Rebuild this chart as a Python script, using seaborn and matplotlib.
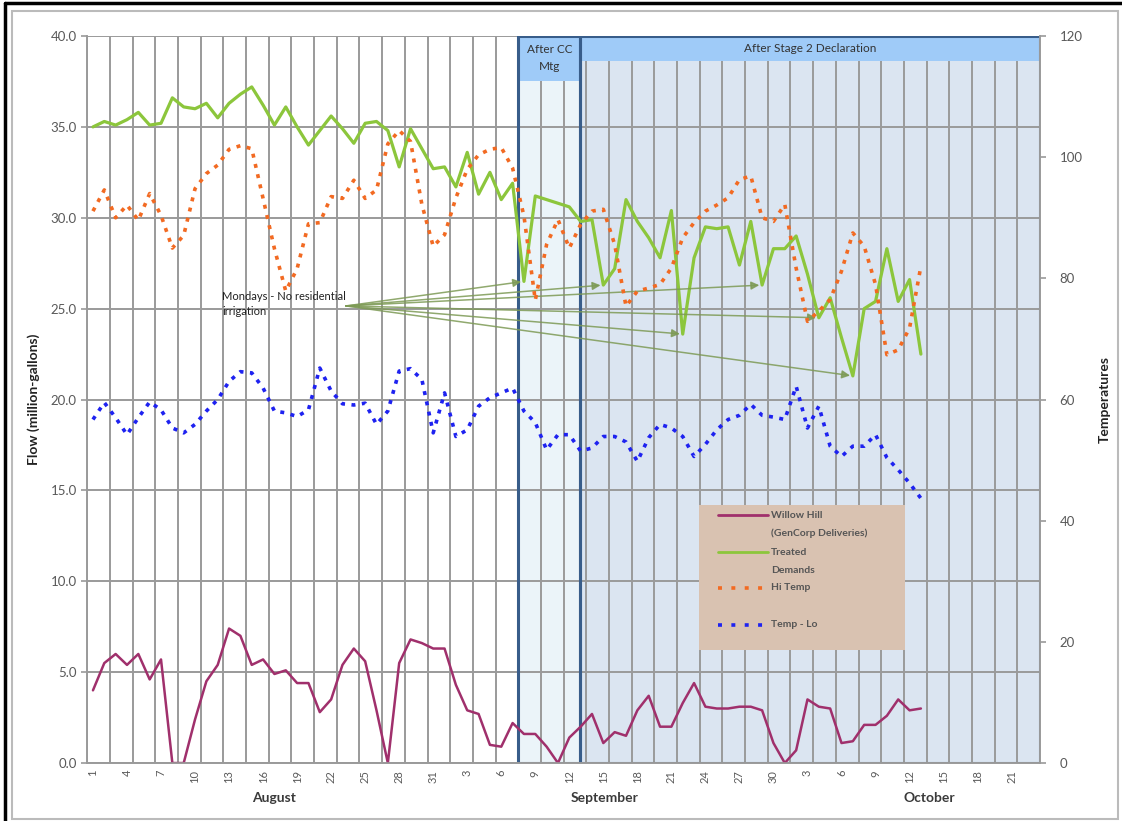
import numpy as np
import pandas as pd
import matplotlib
matplotlib.use("Agg")
import matplotlib.pyplot as plt
import seaborn as sns
from matplotlib.patches import Rectangle
from matplotlib.lines import Line2D

# ==========================================
# Daily data, Aug 1 .. Oct 13 (one value per day)
# ==========================================

willow_hill = [
    4.0, 5.5, 6.0, 5.4, 6.0, 4.6, 5.7, 0.0, 0.0, 2.4,
    4.5, 5.4, 7.4, 7.0, 5.4, 5.7, 4.9, 5.1, 4.4, 4.4,
    2.8, 3.5, 5.4, 6.3, 5.6, 2.9, 0.0, 5.5, 6.8, 6.6,
    6.3, 6.3, 4.3, 2.9, 2.7, 1.0, 0.9, 2.2,
    1.6, 1.6, 0.9, 0.0, 1.4, 2.0, 2.7, 1.1, 1.7, 1.5,
    2.9, 3.7, 2.0, 2.0, 3.3, 4.4, 3.1, 3.0, 3.0, 3.1,
    3.1, 2.9, 1.1, 0.0, 0.7, 3.5, 3.1, 3.0, 1.1, 1.2,
    2.1, 2.1, 2.6, 3.5, 2.9, 3.0,
]

treated_demands = [
    35.0, 35.3, 35.1, 35.4, 35.8, 35.1, 35.2, 36.6, 36.1, 36.0,
    36.3, 35.5, 36.3, 36.8, 37.2, 36.2, 35.1, 36.1, 35.0, 34.0,
    34.8, 35.6, 34.9, 34.1, 35.2, 35.3, 34.8, 32.8, 34.9, 33.8,
    32.7, 32.8, 31.7, 33.6, 31.3, 32.5, 31.0, 31.9,
    26.5, 31.2, 31.0, 30.8, 30.6, 29.8, 29.9, 26.3, 27.2, 31.0,
    29.8, 28.9, 27.8, 30.4, 23.6, 27.8, 29.5, 29.4, 29.5, 27.4,
    29.8, 26.3, 28.3, 28.3, 29.0, 26.9, 24.5, 25.6, 23.4, 21.3,
    25.0, 25.4, 28.3, 25.4, 26.6, 22.5,
]

hi_temp = [
    91.1, 94.6, 90.0, 92.1, 89.6, 94.0, 90.4, 85.0, 87.1, 94.8,
    97.3, 98.7, 101.3, 101.9, 101.4, 93.2, 84.9, 77.9, 81.6, 89.0,
    89.2, 93.5, 93.2, 96.2, 93.2, 94.6, 102.2, 104.4, 102.6, 92.2,
    85.3, 87.2, 93.3, 98.0, 100.4, 101.3, 101.6, 98.2,
    90.3, 76.4, 85.6, 89.7, 85.0, 88.9, 91.1, 91.4, 85.6, 75.4,
    77.9, 78.4, 79.0, 81.7, 86.7, 89.2, 91.1, 92.1, 93.3, 96.3,
    96.9, 90.0, 89.4, 92.2, 81.7, 72.9, 74.6, 76.5, 81.2, 87.5,
    85.3, 79.0, 67.4, 68.2, 71.8, 82.0,
]

temp_lo = [
    56.7, 59.5, 57.0, 54.2, 57.0, 59.6, 58.3, 55.3, 54.5, 55.9,
    58.1, 60.0, 63.0, 64.6, 64.4, 61.9, 58.1, 57.8, 57.2, 58.3,
    65.2, 61.4, 59.3, 59.1, 59.4, 55.9, 58.1, 64.7, 65.1, 63.3,
    54.5, 61.1, 53.9, 55.0, 58.9, 60.3, 61.1, 61.9,
    58.1, 56.2, 51.7, 54.2, 54.2, 51.5, 52.0, 53.9, 53.9, 53.0,
    49.8, 53.7, 55.9, 55.3, 53.9, 50.6, 52.6, 55.0, 56.7, 57.4,
    59.2, 57.4, 57.1, 56.7, 62.2, 55.3, 58.9, 52.3, 50.6, 52.3,
    52.3, 54.2, 50.4, 48.4, 46.2, 43.7,
]

# category axis: Aug 1 .. Oct 23, labels every third day
n_days = 84
tick_labels = ["1", "4", "7", "10", "13", "16", "19", "22", "25", "28", "31",
               "3", "6", "9", "12", "15", "18", "21", "24", "27", "30",
               "3", "6", "9", "12", "15", "18", "21"]
months = ["August", "September", "October"]
month_pos = [16.0, 45.1, 73.7]

# days pointed at by the "Mondays" arrows
monday_days = [38, 45, 52, 59, 64, 67]

# shaded periods (category boundaries)
cc_start, stage2_start, period_end = 37.5, 42.97, 83.5

df = pd.DataFrame({
    "day": np.arange(len(treated_demands)),
    "Willow Hill": willow_hill,
    "Treated Demands": treated_demands,
    "Hi Temp": hi_temp,
    "Temp - Lo": temp_lo,
})

# ==========================================
# Style
# ==========================================

sns.set_style("white")
plt.rcParams["font.family"] = ["Lato", "DejaVu Sans"]

c_purple = "#a0306c"
c_green = "#8cc63c"
c_orange = "#f26a22"
c_blue = "#1e22f0"
c_grid = "#9a9a9a"
c_text = "#595959"
c_border = "#385d8a"
dots = (0, (1.1, 1.8))

fig = plt.figure(figsize=(11.22, 8.21), dpi=100)
ax = fig.add_axes([0.0778, 0.0706, 0.8491, 0.8855])
ax2 = ax.twinx()

# ==========================================
# Shaded periods + headers
# ==========================================

ax.add_patch(Rectangle((cc_start, 0), stage2_start - cc_start, 40,
                       facecolor="#ebf4f9", edgecolor="none", zorder=0.2))
ax.add_patch(Rectangle((stage2_start, 0), period_end - stage2_start, 40,
                       facecolor="#dbe5f1", edgecolor="none", zorder=0.2))
ax.add_patch(Rectangle((cc_start, 37.55), stage2_start - cc_start, 2.45,
                       facecolor="#9fcbf8", edgecolor="none", zorder=1))
ax.add_patch(Rectangle((stage2_start, 38.65), period_end - stage2_start, 1.35,
                       facecolor="#9fcbf8", edgecolor="none", zorder=1))
ax.add_patch(Rectangle((cc_start, 0), stage2_start - cc_start, 40,
                       facecolor="none", edgecolor=c_border, lw=2.2, zorder=1.5))
ax.add_patch(Rectangle((stage2_start, 0), period_end - stage2_start, 40,
                       facecolor="none", edgecolor=c_border, lw=2.2, zorder=1.5))
ax.text((cc_start + stage2_start) / 2, 38.8, "After CC\nMtg", ha="center", va="center",
        fontsize=8.5, color="#333333", linespacing=1.6, zorder=2)
ax.text((stage2_start + period_end) / 2, 39.33, "After Stage 2 Declaration", ha="center",
        va="center", fontsize=8.5, color="#333333", zorder=2)

# ==========================================
# Lines
# ==========================================

sns.lineplot(data=df, x="day", y="Willow Hill", ax=ax, color=c_purple, lw=1.8, zorder=3)
sns.lineplot(data=df, x="day", y="Treated Demands", ax=ax, color=c_green, lw=2.3, zorder=3)
sns.lineplot(data=df, x="day", y="Hi Temp", ax=ax2, color=c_orange, lw=2.6,
             linestyle=dots, zorder=3)
sns.lineplot(data=df, x="day", y="Temp - Lo", ax=ax2, color=c_blue, lw=2.6,
             linestyle=dots, zorder=3)

# ==========================================
# Axes
# ==========================================

ax.set_xlim(-0.5, n_days - 0.5)
ax.set_ylim(0, 40)
ax2.set_ylim(0, 120)

ax.set_xticks(np.arange(0, n_days, 3))
ax.set_xticklabels(tick_labels, rotation=90, fontsize=8, color=c_text)
ax.set_xticks(np.arange(-0.5, n_days, 2), minor=True)
ax.tick_params(axis="x", which="major", length=0, pad=5)
ax.tick_params(axis="x", which="minor", length=4, color=c_grid, width=1.2)

ax.set_yticks(np.arange(0, 41, 5))
ax.set_yticklabels([f"{v:.1f}" for v in np.arange(0, 41, 5)], fontsize=9.5, color=c_text)
ax.tick_params(axis="y", length=4, color=c_grid, width=1.2)
ax2.set_yticks(np.arange(0, 121, 20))
ax2.set_yticklabels([str(v) for v in np.arange(0, 121, 20)], fontsize=9.5, color=c_text)
ax2.tick_params(axis="y", length=4, color=c_grid, width=1.2, pad=10)

ax.grid(axis="x", which="minor", color=c_grid, lw=1.4)
ax.grid(axis="y", which="major", color=c_grid, lw=1.4)
ax.set_axisbelow(True)

for a in (ax, ax2):
    a.spines["top"].set_visible(False)
    for s in ("left", "right", "bottom"):
        a.spines[s].set_color(c_grid)
        a.spines[s].set_linewidth(1.2)

ax.set_xlabel("")
ax.set_ylabel("Flow (million-gallons)", fontsize=10, fontweight="bold", color="#222222", labelpad=8)
ax2.set_ylabel("Temperatures", fontsize=10, fontweight="bold", color="#222222", labelpad=12)

for name, pos in zip(months, month_pos):
    ax.text(pos, -0.048, name, transform=ax.get_xaxis_transform(), ha="center", va="center",
            fontsize=10, fontweight="bold", color="#3a3a3a")

# ==========================================
# Annotation arrows
# ==========================================

ax.text(11.4, 25.95, "Mondays - No residential\nirrigation", fontsize=8, color="#222222",
        va="top", ha="left", linespacing=1.4, zorder=4)
for d in monday_days:
    ax.annotate("", xy=(d, treated_demands[d]), xytext=(22.3, 25.15),
                arrowprops=dict(arrowstyle="-|>", color="#7d9a55", lw=1.1, alpha=0.85,
                                shrinkA=0, shrinkB=2, mutation_scale=12),
                zorder=4)

# ==========================================
# Legend (tan box)
# ==========================================

tr = ax2.transAxes
ax2.add_patch(Rectangle((0.642, 0.155), 0.216, 0.200, transform=tr,
                        facecolor="#d9c2b1", edgecolor="none", zorder=5))
entries = [
    (c_purple, "-", "Willow Hill", "(GenCorp Deliveries)", 0.341),
    (c_green, "-", "Treated", "Demands", 0.290),
    (c_orange, (0, (1.1, 2.6)), "Hi Temp", "", 0.241),
    (c_blue, (0, (1.1, 2.6)), "Temp - Lo", "", 0.190),
]
for col, ls, l1, l2, yy in entries:
    ax2.add_line(Line2D([0.662, 0.715], [yy, yy], transform=tr, color=col,
                        lw=2.6 if ls != "-" else 2.0, linestyle=ls, zorder=6))
    ax2.text(0.718, yy, l1, transform=tr, fontsize=7.5, fontweight="bold",
             color="#555555", va="center", zorder=6)
    if l2:
        ax2.text(0.718, yy - 0.025, l2, transform=tr, fontsize=7.5, fontweight="bold",
                 color="#555555", va="center", zorder=6)

# ==========================================
# Chart frame
# ==========================================

fig.patches.append(Rectangle((12 / 1122, 2 / 821), 1106 / 1122, 808 / 821,
                             transform=fig.transFigure, fill=False,
                             edgecolor="#bbbbbb", lw=1.5))
fig.add_artist(Line2D([5 / 1122, 1], [1 - 3 / 821, 1 - 3 / 821], transform=fig.transFigure,
                      color="black", lw=2.5))
fig.add_artist(Line2D([5 / 1122, 5 / 1122], [0, 1 - 3 / 821], transform=fig.transFigure,
                      color="black", lw=2.5))

fig.savefig("out.png", dpi=100)
